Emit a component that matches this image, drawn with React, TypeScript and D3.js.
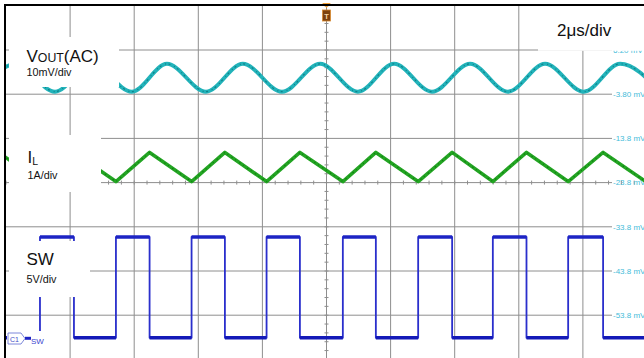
import React from "react";
import * as d3 from "d3";

const W = 644;
const H = 358;

// Screen geometry of the graticule
const X0 = 6;
const DIV_X = 64.1;
const Y0 = 5.8;
const DIV_Y = 44.2;
const N_X = 10;
const N_Y = 8;

// Reference level readouts on the right-hand side (one per inner grid line)
const levelLabels = ["6.20 mV", "-3.80 mV", "-13.8 mV", "-23.8 mV", "-33.8 mV", "-43.8 mV", "-53.8 mV"];

// VOUT(AC) ripple extrema: time in µs, value in mV
const voutTimes = [-0.84, 0.31, 1.53, 2.67, 3.93, 5.02, 6.24, 7.39, 8.61, 9.8, 10.98, 12.11, 13.29, 14.48, 15.66, 16.82, 18.03, 19.16, 20.41];
const voutValues = [-3.1, 3.2, -3.1, 3.2, -3.1, 3.2, -3.1, 3.2, -3.1, 3.2, -3.1, 3.2, -3.1, 3.2, -3.1, 3.2, -3.1, 3.2, -3.1];

// Inductor current ripple vertices: time in µs, value in A (around its mean)
const ilTimes = [-0.23, 1.06, 2.12, 3.43, 4.48, 5.79, 6.83, 8.13, 9.17, 10.51, 11.54, 12.86, 13.92, 15.19, 16.24, 17.54, 18.63, 19.96, 21.0];
const ilValues = [0.33, -0.33, 0.33, -0.33, 0.33, -0.33, 0.33, -0.33, 0.33, -0.33, 0.33, -0.33, 0.33, -0.33, 0.33, -0.33, 0.33, -0.33, 0.33];

// Switch node edges (µs) and levels (V)
const swRising = [1.06, 3.43, 5.79, 8.13, 10.51, 12.86, 15.19, 17.54, 19.96];
const swFalling = [2.12, 4.48, 6.83, 9.17, 11.54, 13.92, 16.24, 18.63];
const swHigh = 11.4;
const swLow = 0;

// Vertical setup per channel: units per division, zero position in divisions from top
const voutCh = { perDiv: 10, zeroDiv: 1.633 };
const ilCh = { perDiv: 1, zeroDiv: 3.647 };
const swCh = { perDiv: 5, zeroDiv: 7.51 };

const FONT = "'Liberation Sans', Arial, Helvetica, sans-serif";

export default function App() {
  const x = d3.scaleLinear().domain([0, 20]).range([X0, X0 + N_X * DIV_X]);
  const yDiv = d3.scaleLinear().domain([0, N_Y]).range([Y0, Y0 + N_Y * DIV_Y]);
  const yOf = (ch: { perDiv: number; zeroDiv: number }) => (v: number) => yDiv(ch.zeroDiv - v / ch.perDiv);

  const yV = yOf(voutCh);
  const yI = yOf(ilCh);
  const yS = yOf(swCh);

  const voutPts: [number, number][] = voutTimes.map((t, i) => [t, voutValues[i]]);
  const ilPts: [number, number][] = ilTimes.map((t, i) => [t, ilValues[i]]);

  const swPts: [number, number][] = [[-0.5, swLow]];
  swRising.forEach((r, i) => {
    swPts.push([r, swLow], [r, swHigh]);
    const f = swFalling[i];
    if (f !== undefined) swPts.push([f, swHigh], [f, swLow]);
  });

  const voutPath = d3
    .line<[number, number]>()
    .x((d) => x(d[0]))
    .y((d) => yV(d[1]))
    .curve(d3.curveMonotoneX)(voutPts) as string;

  const ilPath = d3
    .line<[number, number]>()
    .x((d) => x(d[0]))
    .y((d) => yI(d[1]))(ilPts) as string;

  const swPath = d3
    .line<[number, number]>()
    .x((d) => x(d[0]))
    .y((d) => yS(d[1]))(swPts) as string;

  // flat levels of the switch node drawn as heavier bands
  const swHighSegs = swRising.map((r, i) => [r, swFalling[i] ?? 21]);
  const swLowSegs = [[-0.5, swRising[0]], ...swFalling.map((f, i) => [f, swRising[i + 1] ?? 21])];

  const gridRight = 612;
  const plotBottom = yDiv(N_Y);
  const cx = x(10);
  const cy = yDiv(4);

  const xTicks = d3.range(0, N_X * 5 + 1).map((i) => X0 + (i * DIV_X) / 5);
  const yTicks = d3.range(0, N_Y * 5 + 1).map((i) => Y0 + (i * DIV_Y) / 5);

  return (
    <svg
      width={W}
      height={H}
      viewBox={`0 0 ${W} ${H}`}
      style={{ position: "absolute", left: 0, top: 0, background: "#fff" }}
    >
      <defs>
        <clipPath id="plot">
          <rect x={X0} y={Y0} width={W - X0} height={H - Y0} />
        </clipPath>
      </defs>
      <rect x={0} y={0} width={W} height={H} fill="#fff" />

      {/* graticule */}
      <g stroke="#8e8e8e" strokeWidth={1}>
        {d3.range(1, N_X).map((i) => (
          <line key={"v" + i} x1={x(i * 2)} x2={x(i * 2)} y1={Y0} y2={plotBottom} />
        ))}
        {d3.range(1, N_Y).map((i) => (
          <line key={"h" + i} x1={X0} x2={gridRight} y1={yDiv(i)} y2={yDiv(i)} />
        ))}
      </g>
      <g stroke="#8e8e8e" strokeWidth={1}>
        {xTicks.map((t, i) => (
          <line key={"xt" + i} x1={t} x2={t} y1={cy - 2} y2={cy + 2} />
        ))}
        {yTicks.map((t, i) => (
          <line key={"yt" + i} x1={cx - 2} x2={cx + 2} y1={t} y2={t} />
        ))}
      </g>

      {/* level readouts */}
      <g fontFamily={FONT} fontSize={8} fill="#45bcd9">
        {levelLabels.map((s, i) => (
          <text key={s} x={613} y={yDiv(i + 1) + 2.8}>
            {s}
          </text>
        ))}
      </g>

      {/* traces */}
      <g clipPath="url(#plot)" fill="none" strokeLinejoin="round">
        <path d={voutPath} stroke="#22b3ba" strokeWidth={4} />
        <path d={voutPath} stroke="#0f8189" strokeWidth={1.2} strokeDasharray="1 2.5 2 4" />
        <path d={ilPath} stroke="#23a523" strokeWidth={3.6} />
        <path d={ilPath} stroke="#127d12" strokeWidth={1.2} strokeDasharray="1.5 3 1 4" />
        <path d={swPath} stroke="#2a2fcc" strokeWidth={1.8} />
        {swHighSegs.map(([a, b], i) => (
          <line key={"sh" + i} x1={x(a)} x2={x(b)} y1={yS(swHigh)} y2={yS(swHigh)} stroke="#1d24c4" strokeWidth={3.6} />
        ))}
        {swLowSegs.map(([a, b], i) => (
          <line key={"sl" + i} x1={x(a)} x2={x(b)} y1={yS(swLow)} y2={yS(swLow)} stroke="#141ab8" strokeWidth={3.6} />
        ))}
      </g>

      {/* channel captions */}
      <rect x={9} y={37} width={110} height={50} fill="#fff" />
      <rect x={9} y={135} width={92} height={57} fill="#fff" />
      <rect x={9} y={241} width={81} height={56} fill="#fff" />
      <g fontFamily={FONT} fill="#111">
        <text x={26.5} y={61.7} fontSize={17}>
          V<tspan fontSize={12.3}>OUT</tspan>(AC)
        </text>
        <text x={26.5} y={76} fontSize={10.8}>10mV/div</text>
        <text x={27.5} y={163.3} fontSize={17}>
          I<tspan fontSize={10.5} dy={1.2}>L</tspan>
        </text>
        <text x={27.5} y={179.3} fontSize={10.8}>1A/div</text>
        <text x={26.5} y={265} fontSize={17}>SW</text>
        <text x={26.5} y={282.7} fontSize={10.8}>5V/div</text>
      </g>

      {/* time base */}
      <rect x={538} y={6} width={W - 538} height={44.8} fill="#fff" />
      <text x={557} y={36} fontFamily={FONT} fontSize={17} fill="#111">
        2μs/div
      </text>

      {/* trigger position marker */}
      <path d={`M${cx - 4.3},3 L${cx + 4.3},3 L${cx},8 Z`} fill="#f2a23a" />
      <rect x={cx - 4} y={10} width={8} height={11} fill="#7d420f" stroke="#d98a30" strokeWidth={0.8} />
      <text x={cx} y={18.5} fontFamily={FONT} fontSize={7.5} fontWeight="bold" fill="#f3d6a8" textAnchor="middle">
        T
      </text>

      {/* channel 1 ground marker */}
      <rect x={7} y={331} width={37} height={15} fill="#fff" />
      <path d="M8,333 L21,333 L25,338.5 L21,344 L8,344 Z" fill="#fff" stroke="#6f7cd6" strokeWidth={0.9} />
      <text x={10} y={341.6} fontFamily={FONT} fontSize={7} fill="#4450c8">C1</text>
      <line x1={25} x2={31} y1={338.3} y2={338.3} stroke="#1d24c4" strokeWidth={3} />
      <text x={31} y={344} fontFamily={FONT} fontSize={8} fill="#3a44d0">SW</text>

      {/* frame */}
      <line x1={4} x2={W} y1={5} y2={5} stroke="#000" strokeWidth={2} />
      <line x1={5} x2={5} y1={4} y2={H} stroke="#000" strokeWidth={2} />
    </svg>
  );
}
